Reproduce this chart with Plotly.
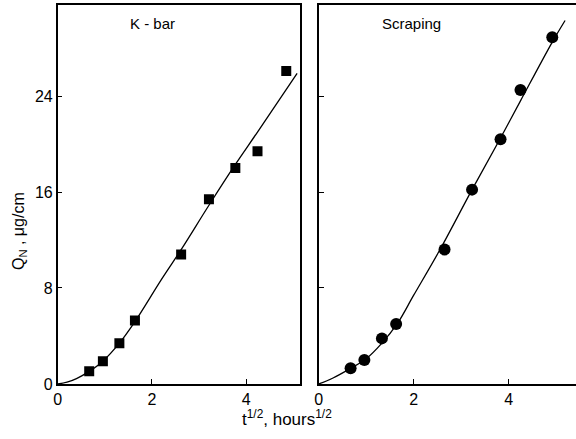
import plotly.graph_objects as go

# K-bar data (squares)
kbar_x = [0.67, 0.96, 1.31, 1.64, 2.62, 3.21, 3.77, 4.24, 4.85]
kbar_y = [1.06, 1.9, 3.4, 5.3, 10.8, 15.4, 18.0, 19.4, 26.1]
# K-bar fitted curve
kbar_fit_x = [0, 0.2, 0.4, 0.67, 0.96, 1.31, 1.64, 2.2, 2.62, 3.21, 3.77, 4.24, 5.08]
kbar_fit_y = [0, 0.15, 0.45, 1.05, 1.9, 3.4, 5.2, 8.7, 11.2, 14.9, 18.3, 21.0, 25.9]

# Scraping data (circles)
scr_x = [0.67, 0.96, 1.33, 1.63, 2.65, 3.23, 3.83, 4.25, 4.92]
scr_y = [1.3, 2.0, 3.8, 5.0, 11.2, 16.2, 20.4, 24.5, 28.9]
# Scraping fitted curve
scr_fit_x = [0, 0.3, 0.67, 1.0, 1.33, 1.65, 2.0, 2.54, 3.23, 3.83, 4.25, 4.92, 5.19]
scr_fit_y = [0, 0.5, 1.3, 2.1, 3.4, 5.0, 7.4, 11.1, 16.2, 20.5, 23.6, 28.5, 30.3]

y_ticks = [0, 8, 16, 24]
x_ticks = [0, 2, 4]

FONT = "Liberation Sans"
W, H = 576, 439

fig = go.Figure()
fig.add_trace(go.Scatter(x=kbar_fit_x, y=kbar_fit_y, mode="lines",
                         line=dict(color="black", width=1.3, shape="spline"),
                         xaxis="x", yaxis="y", showlegend=False))
fig.add_trace(go.Scatter(x=kbar_x, y=kbar_y, mode="markers",
                         marker=dict(symbol="square", size=10, color="black"),
                         xaxis="x", yaxis="y", showlegend=False))
fig.add_trace(go.Scatter(x=scr_fit_x, y=scr_fit_y, mode="lines",
                         line=dict(color="black", width=1.3, shape="spline"),
                         xaxis="x2", yaxis="y2", showlegend=False))
fig.add_trace(go.Scatter(x=scr_x, y=scr_y, mode="markers",
                         marker=dict(symbol="circle", size=12, color="black"),
                         xaxis="x2", yaxis="y2", showlegend=False))

ydom = [1 - 392 / H, 1 - 5 / H]
common_ax = dict(showgrid=False, zeroline=False, showline=True, linecolor="black",
                 linewidth=1.5, ticks="inside", ticklen=5, tickcolor="black",
                 tickwidth=1.2, tickfont=dict(family=FONT, size=16, color="black"))

fig.update_layout(
    width=W, height=H,
    margin=dict(l=0, r=0, t=0, b=0),
    paper_bgcolor="white", plot_bgcolor="white",
    xaxis=dict(domain=[54 / W, 298 / W], range=[0, 5.14], tickvals=x_ticks,
               mirror=True, anchor="y", **common_ax),
    yaxis=dict(domain=ydom, range=[0, 31.6], tickvals=y_ticks,
               mirror=True, anchor="x", **common_ax),
    xaxis2=dict(domain=[317 / W, 1.0], range=[0, 5.42], tickvals=x_ticks,
                mirror=True, anchor="y2", **common_ax),
    yaxis2=dict(domain=ydom, range=[0, 31.6], tickvals=y_ticks, showticklabels=False,
                mirror=False, anchor="x2", **common_ax),
)

fig.add_annotation(x=150 / W, y=1 - 24 / H, xref="paper", yref="paper",
                   xanchor="center", yanchor="middle",
                   text="K - bar", showarrow=False,
                   font=dict(family=FONT, size=15, color="black"))
fig.add_annotation(x=410 / W, y=1 - 24 / H, xref="paper", yref="paper",
                   xanchor="center", yanchor="middle",
                   text="Scraping", showarrow=False,
                   font=dict(family=FONT, size=15, color="black"))
fig.add_annotation(x=15 / W, y=1 - 236 / H, xref="paper", yref="paper",
                   xanchor="center", yanchor="middle",
                   text="Q<sub>N</sub> , μg/cm", showarrow=False, textangle=-90,
                   font=dict(family=FONT, size=16, color="black"))
fig.add_annotation(x=285 / W, y=1 - 427 / H, xref="paper", yref="paper",
                   xanchor="center", yanchor="middle",
                   text="t<sup>1/2</sup>, hours<sup>1/2</sup>", showarrow=False,
                   font=dict(family=FONT, size=17, color="black"))

fig.write_html("out.html")
